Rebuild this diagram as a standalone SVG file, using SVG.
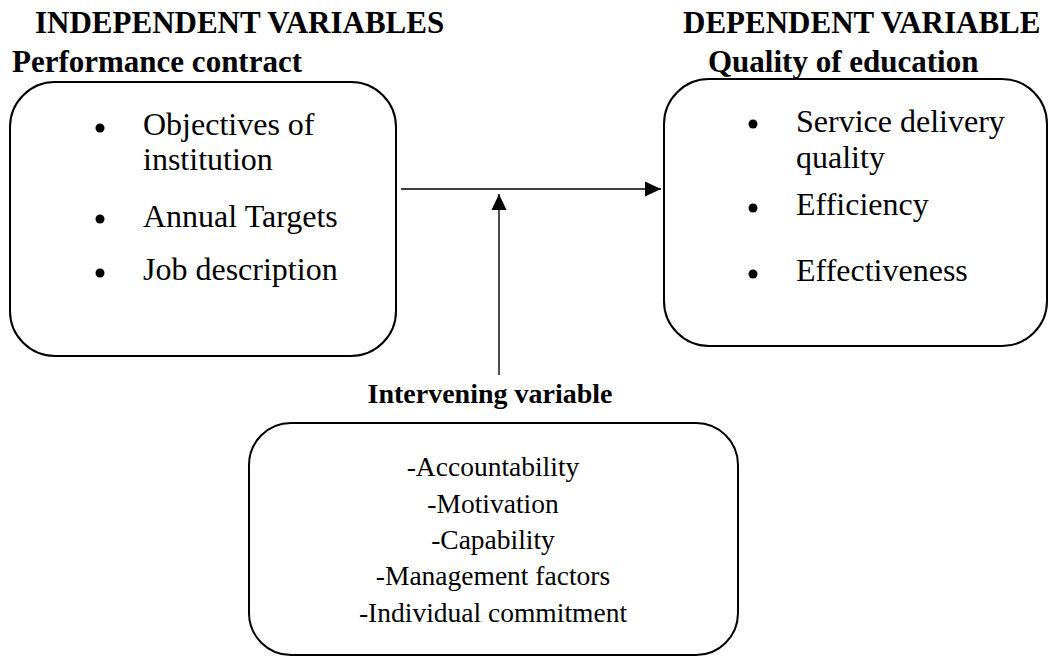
<svg xmlns="http://www.w3.org/2000/svg" width="1061" height="656" viewBox="0 0 1061 656">
  <style>
    .head { font-family: "Liberation Serif", "Times New Roman", serif; font-weight: bold; font-size: 31px; fill: #000; }
    .item { font-family: "Liberation Serif", "Times New Roman", serif; font-size: 32px; fill: #000; }
    .line { font-family: "Liberation Serif", "Times New Roman", serif; font-size: 27.5px; fill: #000; text-anchor: middle; }
    .box { fill: #fff; stroke: #000; stroke-width: 2; }
    .conn { stroke: #000; stroke-width: 1.4; fill: none; }
  </style>
  <defs>
    <marker id="arrow" markerUnits="userSpaceOnUse" markerWidth="16" markerHeight="16" refX="16" refY="8" orient="auto">
      <path d="M0,0.5 L16,8 L0,15.5 Z" fill="#000"/>
    </marker>
  </defs>
  <rect width="1061" height="656" fill="#fff"/>

  <!-- column headings -->
  <text class="head" x="35" y="33">INDEPENDENT VARIABLES</text>
  <text class="head" x="683" y="33">DEPENDENT VARIABLE</text>

  <!-- independent variable box -->
  <g id="performance-contract">
    <text class="head" x="12" y="72">Performance contract</text>
    <rect class="box" x="10" y="82" width="386" height="274" rx="45" ry="45"/>
    <circle cx="100" cy="128" r="4.5"/>
    <text class="item" x="143" y="135">Objectives of</text>
    <text class="item" x="143" y="170">institution</text>
    <circle cx="100" cy="219" r="4.5"/>
    <text class="item" x="143" y="227">Annual Targets</text>
    <circle cx="100" cy="273" r="4.5"/>
    <text class="item" x="143" y="280">Job description</text>
  </g>

  <!-- dependent variable box -->
  <g id="quality-of-education">
    <text class="head" x="708" y="72">Quality of education</text>
    <rect class="box" x="664" y="79" width="383" height="267" rx="45" ry="45"/>
    <circle cx="753" cy="124" r="4.5"/>
    <text class="item" x="796" y="132">Service delivery</text>
    <text class="item" x="796" y="168">quality</text>
    <circle cx="753" cy="208" r="4.5"/>
    <text class="item" x="796" y="215">Efficiency</text>
    <circle cx="753" cy="274" r="4.5"/>
    <text class="item" x="796" y="281">Effectiveness</text>
  </g>

  <!-- intervening variable box -->
  <g id="intervening-variable">
    <text class="head" x="490" y="403" text-anchor="middle" style="font-size:28px">Intervening variable</text>
    <rect class="box" x="249" y="423" width="489" height="232" rx="42" ry="42"/>
    <text class="line" x="493" y="476">-Accountability</text>
    <text class="line" x="493" y="513">-Motivation</text>
    <text class="line" x="493" y="549">-Capability</text>
    <text class="line" x="493" y="585">-Management factors</text>
    <text class="line" x="493" y="622">-Individual commitment</text>
  </g>

  <!-- connectors -->
  <g id="connectors">
    <line class="conn" x1="401" y1="189" x2="661" y2="189" marker-end="url(#arrow)"/>
    <line class="conn" x1="499" y1="375" x2="499" y2="194" marker-end="url(#arrow)"/>
  </g>
</svg>
